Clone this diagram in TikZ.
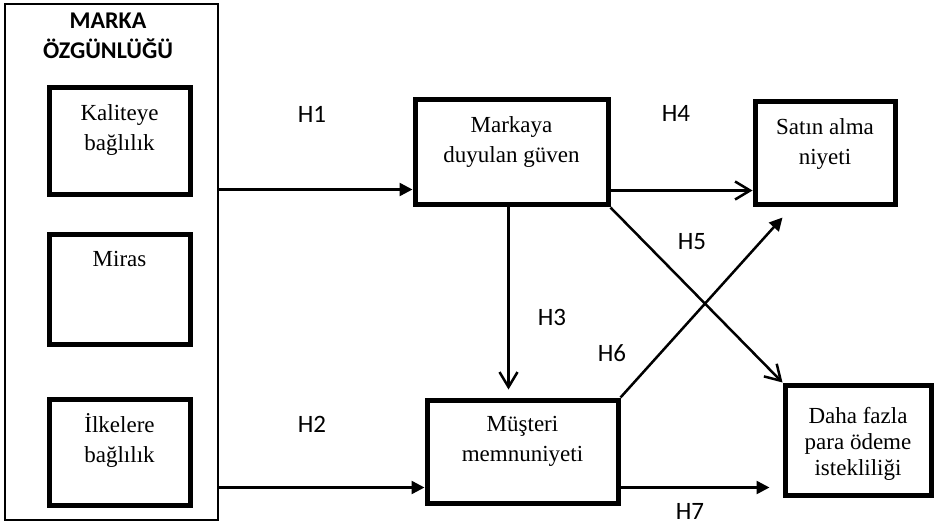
\documentclass[tikz,border=0pt]{standalone}
\usepackage{fontspec}
\setmainfont{Liberation Serif}
\newfontfamily\hypfont{Carlito}
\usetikzlibrary{arrows.meta}
\newcommand{\boxfont}{\fontsize{23}{30}\selectfont}

\tikzset{
	factor/.style={draw, line width=5pt, inner sep=0pt},
	boxtxt/.style={anchor=north, yshift=-19pt, align=center, inner sep=0pt, font=\boxfont},
	hyp/.style={font=\hypfont\fontsize{25}{28}\selectfont, inner sep=0pt},
	solidarr/.style={line width=2.5pt, -{Triangle[length=13pt,width=13pt]}},
	openarr/.style={line width=2.5pt, -{Straight Barb[length=15pt,width=18pt]}}
}

\begin{document}
\begin{tikzpicture}[x=1pt, y=-1pt]
			%%%%% START %%%%%
			\useasboundingbox (0, 0) rectangle (938, 524);
			
			\node[draw, line width=1.5pt, minimum width=213pt, minimum height=516pt] (brand) at (111.5, 262) {};
			\node[anchor=north, align=center, inner sep=0pt, font=\hypfont\bfseries\fontsize{24}{30}\selectfont] (title) at (108, 12.5) {MARKA\\ÖZGÜNLÜĞÜ};
			
			\node[factor, minimum width=141pt, minimum height=107pt, label={[boxtxt]north:Kaliteye\\bağlılık}] (quality) at (119.5, 141.5) {};
			\node[factor, minimum width=141pt, minimum height=109pt, label={[boxtxt]north:Miras}] (heritage) at (119.5, 289.5) {};
			\node[factor, minimum width=141pt, minimum height=106pt, label={[boxtxt, yshift=2pt]north:İlkelere\\bağlılık}] (principles) at (119.5, 452) {};
			
			\node[factor, minimum width=193pt, minimum height=105pt, label={[boxtxt]north:Markaya\\duyulan güven}] (trust) at (511.5, 152.5) {};
			\node[factor, minimum width=140pt, minimum height=103pt, label={[boxtxt]north:Satın alma\\niyeti}] (purchase) at (825, 153.5) {};
			\node[factor, minimum width=191pt, minimum height=103pt, label={[boxtxt]north:Müşteri\\memnuniyeti}] (satisf) at (522.5, 451.5) {};
			\node[factor, minimum width=146pt, minimum height=110pt, label={[boxtxt, yshift=-6pt, font=\fontsize{23}{26}\selectfont]north:Daha fazla\\para ödeme\\istekliliği}] (paymore) at (858, 440) {};
			
			\node[hyp] (h1) at (312, 114) {H1};
			\node[hyp] (h2) at (312, 424) {H2};
			\node[hyp] (h3) at (552, 317) {H3};
			\node[hyp] (h4) at (676, 113) {H4};
			\node[hyp] (h5) at (692, 242) {H5};
			\node[hyp] (h6) at (612, 353) {H6};
			\node[hyp] (h7) at (690, 511) {H7};
			
			\coordinate (h1end) at ([yshift=-37pt]trust.west);
			\coordinate (h2end) at ([yshift=-36pt]satisf.west);
			\coordinate (h3start) at ([xshift=-3pt]trust.south);
			\coordinate (h4start) at ([yshift=-38pt]trust.east);
			\coordinate (h7start) at ([yshift=-36pt]satisf.east);
			
			\draw[solidarr] (brand.east |- h1end) -- (h1end);
			\draw[solidarr] (brand.east |- h2end) -- (h2end);
			\draw[openarr, shorten >=8pt] (h3start) -- (h3start |- satisf.north);
			\draw[openarr] (h4start) -- (purchase.west |- h4start);
			\draw[openarr] (trust.south east) -- (paymore.north west);
			\draw[solidarr] (satisf.north east) -- ([xshift=30pt, yshift=-10pt]purchase.south west);
			\draw[solidarr, shorten >=13pt] (h7start) -- (paymore.west |- h7start);
			
			%%%%% END %%%%%
\end{tikzpicture}
\end{document}
